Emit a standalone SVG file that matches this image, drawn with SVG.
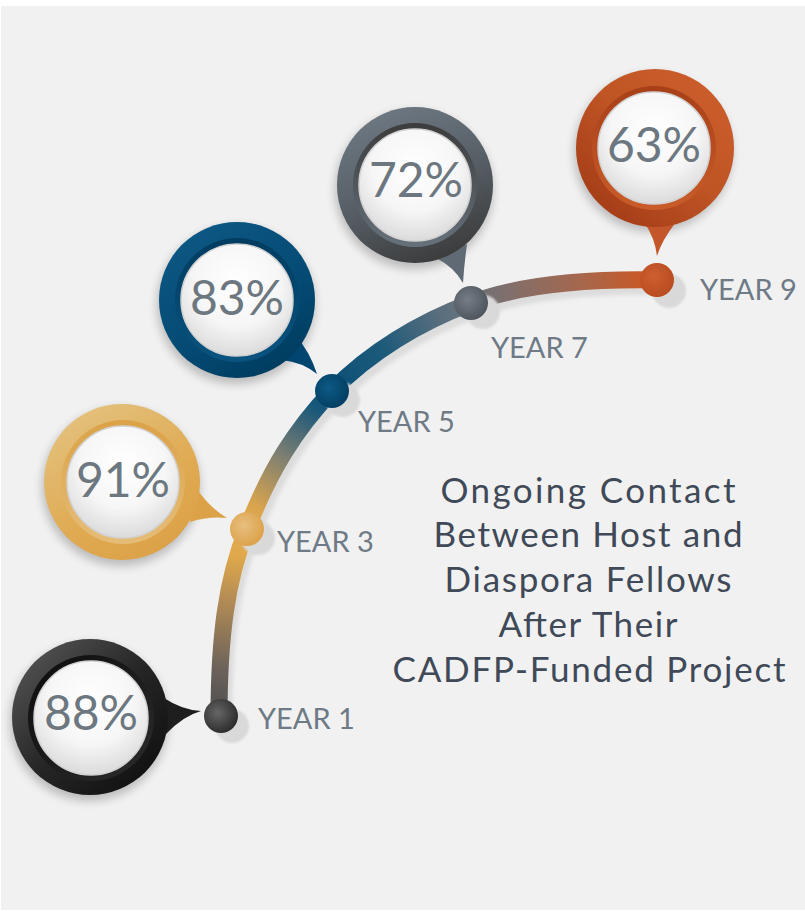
<svg xmlns="http://www.w3.org/2000/svg" width="805" height="911" viewBox="0 0 805 911">
<defs>
<style>
.pct{font-family:Lato,"Noto Sans","Liberation Sans",sans-serif;font-size:48px;fill:#6c7780;text-anchor:middle}
.yr{font-family:Lato,"Noto Sans","Liberation Sans",sans-serif;font-size:29px;fill:#6e7a85}
.ttl{font-family:Lato,"Noto Sans","Liberation Sans",sans-serif;font-size:35px;fill:#3f4957;text-anchor:middle}
.disk{fill:url(#gWhite);stroke:#d2d2d2;stroke-width:1.5}
.bshadow{fill:#000;opacity:0.22;filter:url(#blur5)}
.dshadow{fill:#d9d9d9;filter:url(#blur1)}
.seg{fill:none;stroke-width:17}
</style>
<filter id="blur5" x="-30%" y="-30%" width="160%" height="160%"><feGaussianBlur stdDeviation="5"/></filter>
<filter id="blur1" x="-30%" y="-30%" width="160%" height="160%"><feGaussianBlur stdDeviation="1.2"/></filter>
<filter id="blur2" x="-10%" y="-10%" width="120%" height="120%"><feGaussianBlur stdDeviation="2"/></filter>
<radialGradient id="gWhite" cx="50%" cy="35%" r="70%"><stop offset="0" stop-color="#ffffff"/><stop offset="0.55" stop-color="#f6f6f6"/><stop offset="1" stop-color="#d6d6d6"/></radialGradient>
<linearGradient id="gBlackO" x1="0" y1="0" x2="1" y2="1"><stop offset="0" stop-color="#5c5c5c"/><stop offset="0.5" stop-color="#262626"/><stop offset="1" stop-color="#0b0b0b"/></linearGradient>
<linearGradient id="gBlackI" x1="0" y1="0" x2="1" y2="1"><stop offset="0" stop-color="#0c0c0c"/><stop offset="1" stop-color="#2c2c2c"/></linearGradient>
<linearGradient id="gGoldO" x1="0.2" y1="0" x2="0.8" y2="1"><stop offset="0" stop-color="#e4c27f"/><stop offset="0.6" stop-color="#dfaa52"/><stop offset="1" stop-color="#dca046"/></linearGradient>
<linearGradient id="gGoldI" x1="0" y1="0" x2="0" y2="1"><stop offset="0" stop-color="#dba247"/><stop offset="1" stop-color="#e5bd78"/></linearGradient>
<linearGradient id="gBlueO" x1="0.2" y1="0" x2="0.8" y2="1"><stop offset="0" stop-color="#0d5885"/><stop offset="0.6" stop-color="#044a73"/><stop offset="1" stop-color="#003a5d"/></linearGradient>
<linearGradient id="gBlueI" x1="0" y1="0" x2="0" y2="1"><stop offset="0" stop-color="#003c60"/><stop offset="1" stop-color="#0a5380"/></linearGradient>
<linearGradient id="gGrayO" x1="0.3" y1="0" x2="0.7" y2="1"><stop offset="0" stop-color="#6d7882"/><stop offset="0.5" stop-color="#575f66"/><stop offset="1" stop-color="#3a3a3a"/></linearGradient>
<linearGradient id="gGrayI" x1="0" y1="0" x2="0" y2="1"><stop offset="0" stop-color="#3c3c3c"/><stop offset="1" stop-color="#66717b"/></linearGradient>
<linearGradient id="gOrO" x1="0.9" y1="0.1" x2="0.2" y2="0.9"><stop offset="0" stop-color="#cb5e2b"/><stop offset="0.5" stop-color="#bf5424"/><stop offset="1" stop-color="#a63e18"/></linearGradient>
<linearGradient id="gOrI" x1="0" y1="0" x2="0" y2="1"><stop offset="0" stop-color="#a73f18"/><stop offset="1" stop-color="#c95c29"/></linearGradient>
<radialGradient id="dBlack" cx="40%" cy="40%" r="65%"><stop offset="0" stop-color="#666"/><stop offset="1" stop-color="#2a2a2a"/></radialGradient>
<radialGradient id="dGold" cx="40%" cy="40%" r="65%"><stop offset="0" stop-color="#e7bf80"/><stop offset="1" stop-color="#dca148"/></radialGradient>
<radialGradient id="dBlue" cx="40%" cy="40%" r="65%"><stop offset="0" stop-color="#0d5a86"/><stop offset="1" stop-color="#033d60"/></radialGradient>
<radialGradient id="dGray" cx="40%" cy="40%" r="65%"><stop offset="0" stop-color="#757e87"/><stop offset="1" stop-color="#4c535a"/></radialGradient>
<radialGradient id="dOr" cx="40%" cy="40%" r="65%"><stop offset="0" stop-color="#cd6030"/><stop offset="1" stop-color="#b84b1f"/></radialGradient>
<linearGradient id="s1" gradientUnits="userSpaceOnUse" x1="219" y1="717" x2="247" y2="529"><stop offset="0" stop-color="#4d4d4f"/><stop offset="0.25" stop-color="#6b625a"/><stop offset="0.6" stop-color="#b08a55"/><stop offset="0.85" stop-color="#dfa84c"/><stop offset="1" stop-color="#e2aa4c"/></linearGradient>
<linearGradient id="s2" gradientUnits="userSpaceOnUse" x1="247" y1="529" x2="332" y2="391"><stop offset="0" stop-color="#e2aa4c"/><stop offset="0.15" stop-color="#d9a44e"/><stop offset="0.5" stop-color="#7d7f72"/><stop offset="0.85" stop-color="#1a587a"/><stop offset="1" stop-color="#0b5077"/></linearGradient>
<linearGradient id="s3" gradientUnits="userSpaceOnUse" x1="332" y1="391" x2="471" y2="303"><stop offset="0" stop-color="#0b5077"/><stop offset="0.4" stop-color="#1d5a7a"/><stop offset="0.8" stop-color="#5a6e7d"/><stop offset="1" stop-color="#6c757e"/></linearGradient>
<linearGradient id="s4" gradientUnits="userSpaceOnUse" x1="471" y1="303" x2="657" y2="280"><stop offset="0" stop-color="#6c7079"/><stop offset="0.2" stop-color="#806f6c"/><stop offset="0.6" stop-color="#a6674d"/><stop offset="0.9" stop-color="#c65a2a"/><stop offset="1" stop-color="#c85a28"/></linearGradient>
</defs>

<rect x="1" y="6" width="804" height="904" fill="#f1f1f1"/>

<g id="connectors">
  <path d="M219,717 C219,640 226,580 247,529 C270,470 295,430 332,391 C370,352 420,322 471,303 C525,283 600,279 657,280" fill="none" stroke="#dcdcdc" stroke-width="16" transform="translate(5,7)" filter="url(#blur2)"/>
  <path class="seg" stroke="url(#s1)" d="M219,717 C219,640 226,580 247,529"/>
  <path class="seg" stroke="url(#s2)" d="M247,529 C270,470 295,430 332,391"/>
  <path class="seg" stroke="url(#s3)" d="M332,391 C370,352 420,322 471,303"/>
  <path class="seg" stroke="url(#s4)" d="M471,303 C525,283 600,279 657,280"/>
</g>

<g id="year1">
  <circle class="dshadow" cx="232" cy="726" r="17"/>
  <circle cx="221" cy="716" r="17" fill="url(#dBlack)"/>
  <text class="yr" x="258" y="729">YEAR 1</text>
</g>
<g id="year3">
  <circle class="dshadow" cx="258" cy="538" r="17"/>
  <circle cx="247" cy="529" r="17" fill="url(#dGold)"/>
  <text class="yr" x="277" y="552">YEAR 3</text>
</g>
<g id="year5">
  <circle class="dshadow" cx="343" cy="400" r="17"/>
  <circle cx="332" cy="391" r="17" fill="url(#dBlue)"/>
  <text class="yr" x="358" y="432">YEAR 5</text>
</g>
<g id="year7">
  <circle class="dshadow" cx="483" cy="312" r="17"/>
  <circle cx="471" cy="303" r="17" fill="url(#dGray)"/>
  <text class="yr" x="491" y="358">YEAR 7</text>
</g>
<g id="year9">
  <circle class="dshadow" cx="669" cy="291" r="17"/>
  <circle cx="657" cy="280" r="17" fill="url(#dOr)"/>
  <text class="yr" x="700" y="300">YEAR 9</text>
</g>

<g id="bubble88">
  <circle class="bshadow" cx="89" cy="722" r="79"/>
  <path d="M164,698 Q182,710 201,711 Q183,716 166,734 Z" fill="#1e1e1e"/>
  <circle cx="90" cy="717" r="78" fill="url(#gBlackO)"/>
  <circle cx="91" cy="718" r="63" fill="url(#gBlackI)"/>
  <circle class="disk" cx="91" cy="718" r="57"/>
  <text class="pct" x="91" y="730">88%</text>
</g>

<g id="bubble91">
  <circle class="bshadow" cx="121" cy="487" r="79"/>
  <path d="M196,488 Q210,508 227,518 Q208,516 190,522 Z" fill="#dca247"/>
  <circle cx="122" cy="482" r="78" fill="url(#gGoldO)"/>
  <circle cx="123" cy="482" r="62" fill="url(#gGoldI)"/>
  <circle class="disk" cx="123" cy="482" r="56"/>
  <text class="pct" x="123" y="497">91%</text>
</g>

<g id="bubble83">
  <circle class="bshadow" cx="236" cy="305" r="79"/>
  <path d="M296,336 Q310,352 317,374 Q302,362 282,360 Z" fill="#024570"/>
  <circle cx="237" cy="300" r="78" fill="url(#gBlueO)"/>
  <circle cx="237" cy="300" r="62" fill="url(#gBlueI)"/>
  <circle class="disk" cx="237" cy="300" r="56"/>
  <text class="pct" x="237" y="315">83%</text>
</g>

<g id="bubble72">
  <circle class="bshadow" cx="414" cy="190" r="79"/>
  <path d="M467,244 Q464,266 463,283 Q454,267 436,258 Z" fill="#5f6a74"/>
  <circle cx="415" cy="185" r="78" fill="url(#gGrayO)"/>
  <circle cx="415" cy="185" r="62" fill="url(#gGrayI)"/>
  <circle class="disk" cx="415" cy="185" r="56"/>
  <text class="pct" x="416" y="197">72%</text>
</g>

<g id="bubble63">
  <circle class="bshadow" cx="653" cy="153" r="79"/>
  <path d="M644,222 Q655,238 657,256 Q662,240 676,222 Z" fill="#c3562a"/>
  <circle cx="655" cy="148" r="79" fill="url(#gOrO)"/>
  <circle cx="654" cy="148" r="62" fill="url(#gOrI)"/>
  <circle class="disk" cx="654" cy="148" r="56"/>
  <text class="pct" x="654" y="162">63%</text>
</g>

<g id="title">
  <text class="ttl" x="588" y="503" textLength="295" lengthAdjust="spacing">Ongoing Contact</text>
  <text class="ttl" x="588" y="547" textLength="309" lengthAdjust="spacing">Between Host and</text>
  <text class="ttl" x="588" y="592" textLength="287" lengthAdjust="spacing">Diaspora Fellows</text>
  <text class="ttl" x="588" y="637" textLength="179" lengthAdjust="spacing">After Their</text>
  <text class="ttl" x="589" y="682" textLength="393" lengthAdjust="spacing">CADFP-Funded Project</text>
</g>
</svg>
